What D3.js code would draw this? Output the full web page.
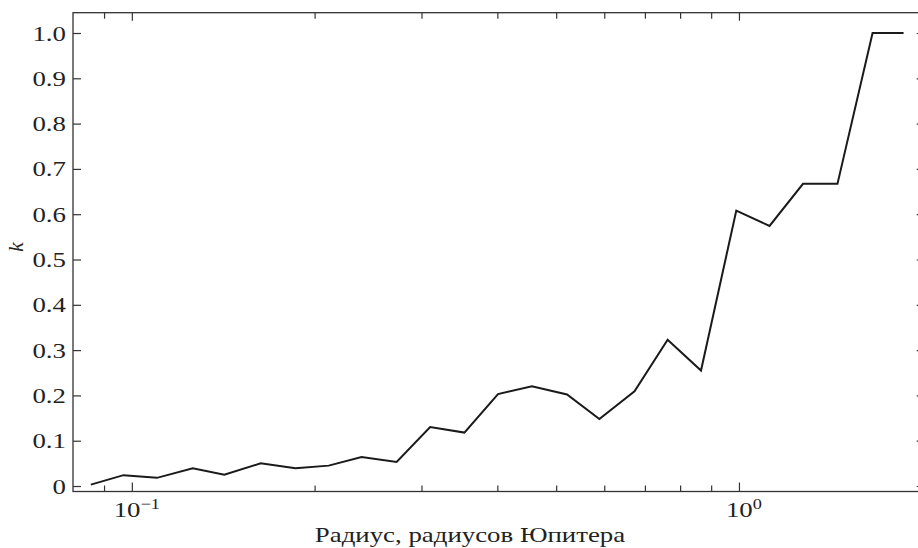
<!DOCTYPE html>
<html>
<head>
<meta charset="utf-8">
<script src="https://cdn.jsdelivr.net/npm/d3@7"></script>
<style>
  body { margin: 0; background: #fff; }
  .chart text { font-family: "Liberation Serif", "DejaVu Serif", serif; fill: #222; }
  .axis path { display: none; }
  .axis line { stroke: #333; stroke-width: 1.2; }
</style>
</head>
<body>
<div class="chart"></div>
<script>
// radius, in Jupiter radii (log axis), and the fraction k
var radius = [0.0856, 0.0969, 0.110, 0.126, 0.142, 0.163, 0.186, 0.211, 0.239, 0.273,
              0.310, 0.353, 0.401, 0.456, 0.521, 0.589, 0.673, 0.763, 0.866, 0.990,
              1.123, 1.275, 1.453, 1.66, 1.867];
var kValues = [0.003, 0.024, 0.018, 0.039, 0.025, 0.050, 0.039, 0.045, 0.064, 0.053,
               0.130, 0.118, 0.203, 0.220, 0.202, 0.148, 0.209, 0.323, 0.255, 0.608,
               0.574, 0.667, 0.667, 1.0, 1.0];

var xMajorTicks = [0.1, 1];
var xMajorExps = ["\u22121", "0"];
var xMinorTicks = [0.09, 0.2, 0.3, 0.4, 0.5, 0.6, 0.7, 0.8, 0.9, 2];
var yTicks = [0, 0.1, 0.2, 0.3, 0.4, 0.5, 0.6, 0.7, 0.8, 0.9, 1.0];

var xLabel = "Радиус, радиусов Юпитера";
var yLabel = "k";

var pageWidth = 918, pageHeight = 548;
var plotLeft = 73, plotRight = 921.7, plotTop = 12.7, plotBottom = 491.5;
var stretch = 1.22; // the original type is set a little wide

var svg = d3.select('.chart')
    .append('svg')
    .attr('width', pageWidth)
    .attr('height', pageHeight);

var x = d3.scaleLog().domain([0.08, 2]).range([plotLeft, plotRight]);
var y = d3.scaleLinear().domain([-0.0121, 1.0448]).range([plotBottom, plotTop]);

// frame
svg.append('rect')
    .attr('x', plotLeft).attr('y', plotTop)
    .attr('width', plotRight - plotLeft).attr('height', plotBottom - plotTop)
    .style('fill', 'none').style('stroke', '#333').style('stroke-width', 1.3);

// bottom + top ticks, all pointing inward
function xTicks(axisFn, yPos, values, size){
    svg.append('g')
        .attr('class', 'axis')
        .attr('transform', 'translate(0,' + yPos + ')')
        .call(axisFn(x).tickValues(values).tickSize(-size).tickFormat(''));
}
xTicks(d3.axisBottom, plotBottom, xMajorTicks, 9);
xTicks(d3.axisBottom, plotBottom, xMinorTicks, 6);
xTicks(d3.axisTop, plotTop, xMajorTicks, 8);
xTicks(d3.axisTop, plotTop, xMinorTicks, 6);

// 10^n labels under the major ticks
var expLabels = svg.append('g').selectAll('text')
    .data(xMajorTicks)
    .enter().append('text')
    .attr('class', 'wide')
    .attr('x', function(d){ return x(d) + 5; })
    .attr('y', 516.5)
    .attr('text-anchor', 'middle')
    .style('font-size', '22px');
expLabels.append('tspan').text('10');
expLabels.append('tspan')
    .attr('dy', -8)
    .style('font-size', '15px')
    .text(function(d, i){ return xMajorExps[i]; });

// left axis with labels, right axis ticks only
svg.append('g')
    .attr('class', 'axis')
    .attr('transform', 'translate(' + plotLeft + ',0)')
    .call(d3.axisLeft(y).tickValues(yTicks).tickSize(-8).tickPadding(7)
        .tickFormat(function(d){ return d === 0 ? '0' : d3.format('.1f')(d); }))
    .selectAll('text')
    .attr('class', 'wide')
    .style('font-size', '22px')
    .style('font-family', '"Liberation Serif", serif')
    .style('fill', '#222');

svg.append('g')
    .attr('class', 'axis')
    .attr('transform', 'translate(' + plotRight + ',0)')
    .call(d3.axisRight(y).tickValues(yTicks).tickSize(-5).tickFormat(''));

// the curve
var line = d3.line()
    .x(function(d, i){ return x(radius[i]); })
    .y(function(d){ return y(d); });

svg.append('path')
    .datum(kValues)
    .attr('d', line)
    .style('fill', 'none')
    .style('stroke', '#1a1a1a')
    .style('stroke-width', 2)
    .style('stroke-linejoin', 'miter');

// axis titles
svg.append('text')
    .attr('class', 'wide')
    .attr('x', 470).attr('y', 542)
    .attr('text-anchor', 'middle')
    .style('font-size', '22px')
    .text(xLabel);

svg.append('text')
    .attr('transform', 'translate(23,247) rotate(-90)')
    .attr('text-anchor', 'middle')
    .style('font-size', '22px')
    .style('font-style', 'italic')
    .text(yLabel);

// widen the text to match the original's letter widths
svg.selectAll('text.wide').each(function(){
    var w = this.getComputedTextLength();
    d3.select(this)
        .attr('textLength', w * stretch)
        .attr('lengthAdjust', 'spacingAndGlyphs');
});
</script>
</body>
</html>
